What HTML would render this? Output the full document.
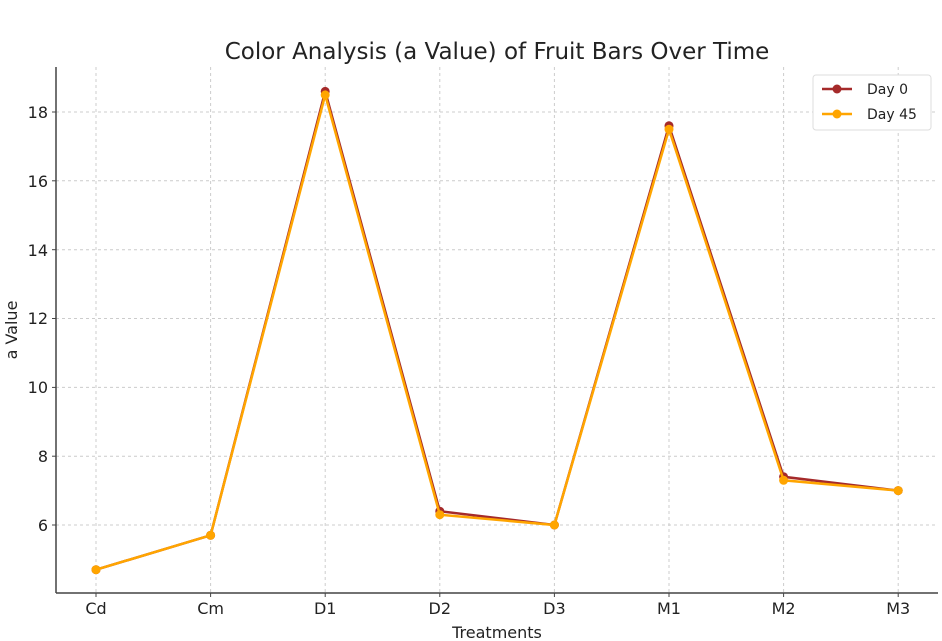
<!DOCTYPE html>
<html><head><meta charset="utf-8"><style>body{margin:0;background:#fff}svg{display:block;font-family:"DejaVu Sans","Liberation Sans",sans-serif}</style></head><body>
<svg width="942" height="641" xmlns="http://www.w3.org/2000/svg">
<rect width="942" height="641" fill="#fff"/>
<g stroke="#ccc" stroke-dasharray="3,3" stroke-width="1">
<line x1="96" y1="67" x2="96" y2="593"/><line x1="210.6" y1="67" x2="210.6" y2="593"/><line x1="325.2" y1="67" x2="325.2" y2="593"/><line x1="439.8" y1="67" x2="439.8" y2="593"/><line x1="554.4" y1="67" x2="554.4" y2="593"/><line x1="669" y1="67" x2="669" y2="593"/><line x1="783.6" y1="67" x2="783.6" y2="593"/><line x1="898.2" y1="67" x2="898.2" y2="593"/>
<line x1="56" y1="525" x2="938" y2="525"/><line x1="56" y1="456.2" x2="938" y2="456.2"/><line x1="56" y1="387.4" x2="938" y2="387.4"/><line x1="56" y1="318.5" x2="938" y2="318.5"/><line x1="56" y1="249.7" x2="938" y2="249.7"/><line x1="56" y1="180.8" x2="938" y2="180.8"/><line x1="56" y1="112" x2="938" y2="112"/>
</g>
<g stroke="#444" stroke-width="1.5"><line x1="56" y1="67" x2="56" y2="593"/><line x1="56" y1="593" x2="938" y2="593"/></g>
<g stroke="#444" stroke-width="1">
<line x1="52" y1="525" x2="56" y2="525"/><line x1="52" y1="456.2" x2="56" y2="456.2"/><line x1="52" y1="387.4" x2="56" y2="387.4"/><line x1="52" y1="318.5" x2="56" y2="318.5"/><line x1="52" y1="249.7" x2="56" y2="249.7"/><line x1="52" y1="180.8" x2="56" y2="180.8"/><line x1="52" y1="112" x2="56" y2="112"/>
<line x1="96" y1="593" x2="96" y2="597"/><line x1="210.6" y1="593" x2="210.6" y2="597"/><line x1="325.2" y1="593" x2="325.2" y2="597"/><line x1="439.8" y1="593" x2="439.8" y2="597"/><line x1="554.4" y1="593" x2="554.4" y2="597"/><line x1="669" y1="593" x2="669" y2="597"/><line x1="783.6" y1="593" x2="783.6" y2="597"/><line x1="898.2" y1="593" x2="898.2" y2="597"/>
</g>
<g font-size="16" fill="#222" text-anchor="end">
<text x="48" y="531">6</text><text x="48" y="462">8</text><text x="48" y="393">10</text><text x="48" y="324">12</text><text x="48" y="256">14</text><text x="48" y="187">16</text><text x="48" y="118">18</text></g>
<g font-size="16" fill="#222" text-anchor="middle">
<text x="96" y="614">Cd</text><text x="210.6" y="614">Cm</text><text x="325.2" y="614">D1</text><text x="439.8" y="614">D2</text><text x="554.4" y="614">D3</text><text x="669" y="614">M1</text><text x="783.6" y="614">M2</text><text x="898.2" y="614">M3</text>
<text x="497" y="638">Treatments</text>
<text x="497" y="59" font-size="23">Color Analysis (a Value) of Fruit Bars Over Time</text>
<text transform="translate(17,330) rotate(-90)">a Value</text></g>
<g fill="#a52a2a"><polyline fill="none" stroke="#a52a2a" stroke-width="2.5" points="96,569.7 210.6,535.3 325.2,91.4 439.8,511.2 554.4,525 669,125.8 783.6,476.8 898.2,490.6"/>
<circle cx="96" cy="569.7" r="4.5"/><circle cx="210.6" cy="535.3" r="4.5"/><circle cx="325.2" cy="91.4" r="4.5"/><circle cx="439.8" cy="511.2" r="4.5"/><circle cx="554.4" cy="525" r="4.5"/><circle cx="669" cy="125.8" r="4.5"/><circle cx="783.6" cy="476.8" r="4.5"/><circle cx="898.2" cy="490.6" r="4.5"/></g>
<g fill="#ffa500"><polyline fill="none" stroke="#ffa500" stroke-width="2.5" points="96,569.7 210.6,535.3 325.2,94.9 439.8,514.7 554.4,525 669,129.3 783.6,480.3 898.2,490.6"/>
<circle cx="96" cy="569.7" r="4.5"/><circle cx="210.6" cy="535.3" r="4.5"/><circle cx="325.2" cy="94.9" r="4.5"/><circle cx="439.8" cy="514.7" r="4.5"/><circle cx="554.4" cy="525" r="4.5"/><circle cx="669" cy="129.3" r="4.5"/><circle cx="783.6" cy="480.3" r="4.5"/><circle cx="898.2" cy="490.6" r="4.5"/></g>
<rect x="813" y="75" width="118" height="55" rx="3" fill="#fff" stroke="#ddd"/>
<line x1="822" y1="89" x2="852" y2="89" stroke="#a52a2a" stroke-width="2.5"/><circle cx="837" cy="89" r="4.5" fill="#a52a2a"/>
<line x1="822" y1="114" x2="852" y2="114" stroke="#ffa500" stroke-width="2.5"/><circle cx="837" cy="114" r="4.5" fill="#ffa500"/>
<g font-size="14" fill="#222"><text x="867" y="94">Day 0</text><text x="867" y="119">Day 45</text></g>
</svg></body></html>
